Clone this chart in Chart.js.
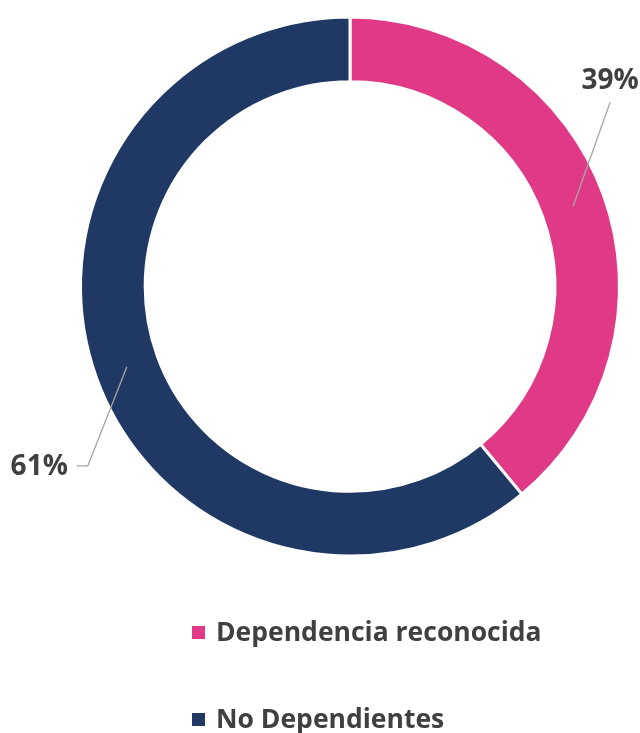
<!DOCTYPE html>
<html>
<head>
<meta charset="utf-8">
<script src="https://cdn.jsdelivr.net/npm/chart.js@4"></script>
<style>
    body { margin: 0; background: #fff; }
    #wrap { width: 640px; height: 733px; }
</style>
</head>
<body>
<div id="wrap"><canvas id="grafico" width="640" height="733"></canvas></div>
<script>
const categorie = ['Dependencia reconocida', 'No Dependientes']
const valori = [39, 61]
const etichette = ['39%', '61%']
const colori = ['#E03A87', '#1F3864']

const testoGrigio = '#404040'
const fontNome = '"Open Sans", Lato, sans-serif'

// etichette con linee guida (posizione relativa al centro dell'anello)
const pluginEtichette = {
    id: 'etichette',
    afterDatasetsDraw(chart, args, opts) {
        const ctx = chart.ctx
        const meta = chart.getDatasetMeta(0)
        meta.data.forEach((arco, i) => {
            const p = arco.getProps(['x', 'y', 'startAngle', 'endAngle', 'innerRadius', 'outerRadius'], true)
            const ang = (p.startAngle + p.endAngle) / 2
            const r = (p.innerRadius + p.outerRadius) / 2
            const ax = p.x + Math.cos(ang) * r
            const ay = p.y + Math.sin(ang) * r
            const off = opts.offset[i]
            const ex = ax + off.dx
            const ey = ay + off.dy

            ctx.save()
            ctx.strokeStyle = '#A6A6A6'
            ctx.lineWidth = 1.3
            ctx.beginPath()
            ctx.moveTo(ax, ay)
            ctx.lineTo(ex, ey)
            if (off.coda)
                ctx.lineTo(ex + off.coda, ey)
            ctx.stroke()

            ctx.fillStyle = testoGrigio
            ctx.font = 'bold 28px ' + fontNome
            if (off.coda) {
                ctx.textAlign = 'right'
                ctx.textBaseline = 'middle'
                ctx.fillText(etichette[i], ex + off.coda - 9, ey + 1)
            } else {
                ctx.textAlign = 'center'
                ctx.textBaseline = 'bottom'
                ctx.fillText(etichette[i], ex, ey - 7)
            }
            ctx.restore()
        })
    }
}

// legenda verticale in basso
const pluginLegenda = {
    id: 'legendaVerticale',
    afterDraw(chart, args, opts) {
        const ctx = chart.ctx
        ctx.save()
        categorie.forEach((nome, i) => {
            const y = opts.y + i * opts.passo
            ctx.fillStyle = colori[i]
            ctx.fillRect(opts.x, y - 7, 13, 13)
            ctx.fillStyle = testoGrigio
            ctx.font = 'bold 26.5px ' + fontNome
            ctx.textAlign = 'left'
            ctx.textBaseline = 'alphabetic'
            ctx.fillText(nome, opts.x + 24, y + 8)
        })
        ctx.restore()
    }
}

new Chart(document.getElementById('grafico'), {
    type: 'doughnut',
    data: {
        labels: categorie,
        datasets: [{
            data: valori,
            backgroundColor: colori,
            borderColor: '#ffffff',
            borderWidth: 3
        }]
    },
    options: {
        responsive: false,
        animation: false,
        cutout: '76%',
        layout: {
            padding: { left: 79, right: 19, top: 15, bottom: 175 }
        },
        plugins: {
            legend: { display: false },
            tooltip: { enabled: false },
            etichette: {
                offset: [
                    { dx: 37, dy: -104 },
                    { dx: -39, dy: 99, coda: -11 }
                ]
            },
            legendaVerticale: { x: 192, y: 633, passo: 87 }
        }
    },
    plugins: [pluginEtichette, pluginLegenda]
})
</script>
</body>
</html>
